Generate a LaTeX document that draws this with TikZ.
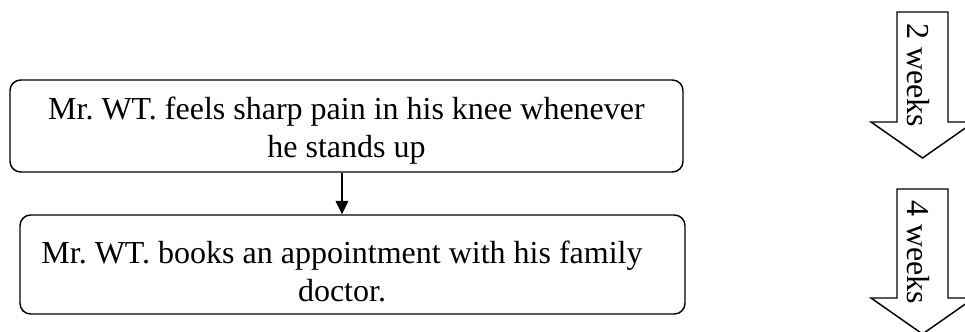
\documentclass[tikz,border=0pt]{standalone}
\usepackage{fontspec}
\setmainfont{Liberation Serif}
\usetikzlibrary{arrows.meta}
\begin{document}
\begin{tikzpicture}[x=0.75pt,y=-0.75pt,
  stepbox/.style={draw, line width=1.1pt, rounded corners=8pt, inner sep=0pt},
  txt/.style={align=center, inner sep=0pt, font=\fontsize{24pt}{28.5pt}\selectfont},
  blockarrow/.style={draw, line width=1.1pt, line join=miter, fill=white},
  weektxt/.style={rotate=-90, inner sep=0pt, font=\fontsize{24pt}{28.5pt}\selectfont},
  flow/.style={line width=0.9pt, -{Triangle[length=10pt,width=9.5pt]}}]
\useasboundingbox[fill=white] (0,0) rectangle (965,332);

% the two event boxes
\node[stepbox, minimum width=504.75pt, minimum height=69pt] (b1) at (346.5,126) {};
\node[stepbox, minimum width=498.75pt, minimum height=74.25pt] (b2) at (352.5,264.5) {};

\node[txt] (t1) at (346.5,131) {Mr.\ WT. feels sharp pain in his knee whenever\\he stands up};
\node[txt] (t2) at (342,271) {Mr.\ WT. books an appointment with his family\\doctor.};

\draw[flow] ([xshift=-3.4pt]b1.south) -- ([xshift=-3.4pt]b1.south |- b2.north);

% time-span block arrows on the right
\draw[blockarrow] (897,12) -- (948,12) -- (948,122) -- (974,122) -- (922.5,158)
  -- (871,122) -- (897,122) -- cycle;
\node[weektxt] (w2) at (918,75) {2 weeks};

\draw[blockarrow] (897,189) -- (948,189) -- (948,298) -- (974,298) -- (922.5,334)
  -- (871,298) -- (897,298) -- cycle;
\node[weektxt] (w4) at (918,252) {4 weeks};
\end{tikzpicture}
\end{document}
